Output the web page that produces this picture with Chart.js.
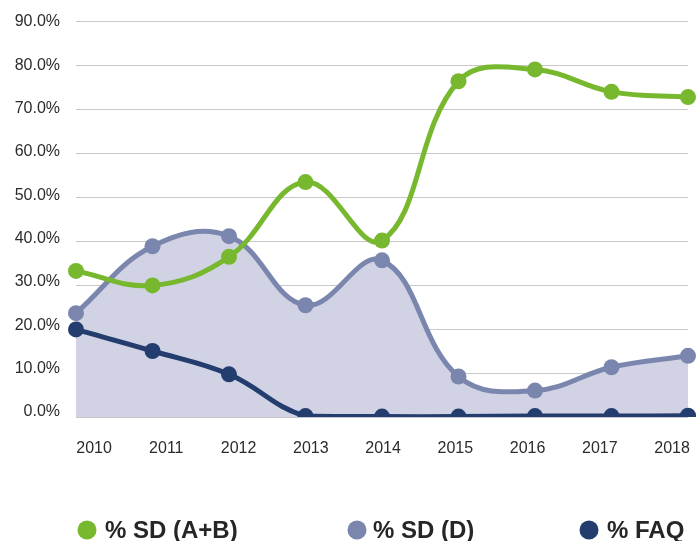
<!DOCTYPE html>
<html lang="en">
<head>
  <meta charset="UTF-8">
  <title>% SD / % FAQ 2010-2018</title>
  <script src="https://cdn.jsdelivr.net/npm/chart.js"></script>
  <style>
    html, body {
      margin: 0;
      padding: 0;
      background: #fff;
    }
    .wrap {
      width: 700px;
      height: 541px;
      position: relative;
    }
  </style>
</head>
<body>
  <div class="wrap">
    <canvas id="grafico"></canvas>
  </div>

  <script>
    const anos = [2010, 2011, 2012, 2013, 2014, 2015, 2016, 2017, 2018];
    const sdAB = [33.2, 29.9, 36.4, 53.4, 40.1, 76.3, 79.0, 73.9, 72.7];
    const sdD = [23.6, 38.8, 41.1, 25.4, 35.6, 9.2, 6.0, 11.3, 13.9];
    const faq = [19.9, 15.0, 9.7, 0.2, 0.1, 0.1, 0.2, 0.2, 0.3];
    const rotulos = ['% SD (A+B)', '% SD (D)', '% FAQ'];

    const verde = '#77b82f';
    const lilas = '#7a86ad';
    const lilasFundo = '#d1d3e4';
    const azul = '#223d6e';

    // legenda desenhada a mão para ficar espaçada como no original
    const legendaManual = {
      id: 'legendaManual',
      afterDraw(chart) {
        const ctx = chart.ctx;
        const posCirculo = [87, 357, 589];
        const posTexto = [105, 373, 607];
        const y = 530;
        ctx.save();
        ctx.font = 'bold 24px "Liberation Sans", Arial, sans-serif';
        ctx.textBaseline = 'middle';
        ctx.textAlign = 'left';
        chart.data.datasets.forEach((ds, i) => {
          ctx.fillStyle = ds.borderColor;
          ctx.beginPath();
          ctx.arc(posCirculo[i], y, 9.5, 0, Math.PI * 2);
          ctx.fill();
          ctx.fillStyle = '#262626';
          ctx.fillText(ds.label, posTexto[i], y + 1);
        });
        ctx.restore();
      }
    };

    const serie = (label, data, cor, extra) => Object.assign({
      label: label,
      data: data,
      borderColor: cor,
      backgroundColor: cor,
      pointBackgroundColor: cor,
      pointBorderWidth: 0,
      pointRadius: 8,
      pointHoverRadius: 8,
      borderWidth: 5,
      tension: 0.4,
      fill: false,
      xAxisID: 'x',
      yAxisID: 'y'
    }, extra || {});

    const semMargem = (scale) => {
      scale.paddingLeft = 0;
      scale.paddingRight = 0;
      scale.paddingTop = 0;
      scale.paddingBottom = 0;
    };

    const fonteEixo = { family: '"Liberation Sans", Arial, sans-serif', size: 16 };

    const ctx = document.getElementById('grafico').getContext('2d');
    new Chart(ctx, {
      type: 'line',
      data: {
        labels: anos.map(String),
        datasets: [
          serie(rotulos[0], sdAB, verde),
          serie(rotulos[1], sdD, lilas, { fill: 'origin', backgroundColor: lilasFundo }),
          serie(rotulos[2], faq, azul)
        ]
      },
      options: {
        responsive: true,
        maintainAspectRatio: false,
        animation: false,
        events: [],
        layout: {
          padding: { top: 21, right: 12, bottom: 83, left: 0 }
        },
        scales: {
          x: {
            type: 'category',
            display: false
          },
          // eixos só de rótulos: no original os rótulos não batem exatamente com a grade
          xt: {
            type: 'linear',
            position: 'bottom',
            min: 2009.75,
            max: 2018.22,
            afterFit: (scale) => { semMargem(scale); scale.height = 41; },
            grid: { display: false, drawTicks: false },
            border: { display: false },
            ticks: {
              stepSize: 1,
              includeBounds: false,
              padding: 22,
              color: '#2b2b2b',
              font: fonteEixo,
              callback: (v) => anos.includes(v) ? String(v) : ''
            }
          },
          y: {
            min: 0,
            max: 90,
            position: 'left',
            afterFit: (scale) => { semMargem(scale); scale.width = 0; },
            grid: { color: '#c8c8c8', lineWidth: 1, drawTicks: false },
            border: { display: false },
            ticks: { display: false, stepSize: 10 }
          },
          yt: {
            type: 'linear',
            position: 'left',
            min: -1.22,
            max: 90.23,
            afterFit: (scale) => { semMargem(scale); scale.width = 76; },
            grid: { display: false, drawTicks: false },
            border: { display: false },
            ticks: {
              stepSize: 10,
              includeBounds: false,
              padding: 16,
              color: '#2b2b2b',
              font: fonteEixo,
              callback: (v) => v.toFixed(1) + '%'
            }
          }
        },
        plugins: {
          legend: { display: false },
          tooltip: { enabled: false },
          filler: { drawTime: 'beforeDatasetsDraw' }
        }
      },
      plugins: [legendaManual]
    });
  </script>
</body>
</html>
